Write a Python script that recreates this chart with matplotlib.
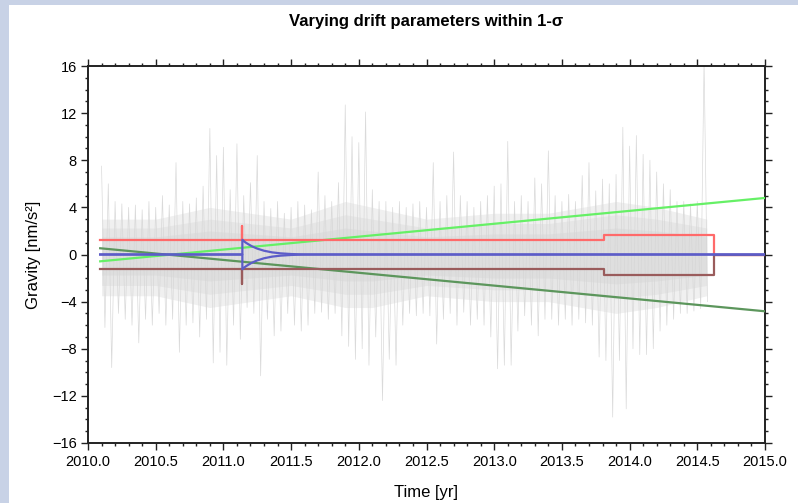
import numpy as np
import matplotlib
matplotlib.use("Agg")
import matplotlib.pyplot as plt
from matplotlib.patches import Rectangle
from matplotlib.ticker import MultipleLocator, FormatStrFormatter

# ---------------- data ----------------
noise_start = 2010.10
noise_step = 0.05
noise_hi = [7.5, 6.0, 4.5, 4.3, 4.0, 4.2, 3.8, 4.5, 4.0, 5.0,
            4.2, 7.8, 4.5, 4.3, 4.8, 5.8, 10.7, 8.4, 9.1, 5.5,
            9.4, 5.0, 6.1, 8.4, 4.5, 3.9, 4.5, 3.5, 4.0, 4.5,
            4.2, 3.8, 7.0, 5.0, 4.5, 6.1, 12.7, 10.0, 9.5, 12.1,
            5.5, 4.5, 4.5, 4.0, 4.5, 4.0, 4.3, 4.5, 4.0, 7.8,
            4.5, 5.0, 8.7, 5.0, 4.5, 4.0, 4.5, 5.0, 5.8, 6.0,
            9.6, 4.5, 5.0, 4.5, 6.5, 6.0, 8.8, 5.0, 4.5, 5.1,
            4.5, 6.7, 7.8, 5.4, 6.4, 6.0, 6.8, 10.8, 9.2, 10.1,
            8.5, 8.0, 7.0, 6.0, 5.5, 4.5, 4.5, 4.3, 4.5, 16.5]
noise_lo = [-6.2, -9.6, -5.0, -5.5, -6.0, -7.5, -5.5, -6.0, -5.0, -6.0,
            -5.5, -8.3, -6.0, -5.8, -7.0, -5.5, -9.2, -8.3, -9.4, -6.0,
            -7.2, -4.5, -5.0, -10.3, -5.5, -6.9, -6.5, -5.0, -6.0, -6.5,
            -6.0, -5.0, -4.9, -5.5, -5.0, -6.9, -7.8, -8.9, -8.0, -9.4,
            -7.0, -12.4, -8.9, -9.4, -6.0, -5.0, -5.2, -5.0, -5.2, -7.6,
            -5.5, -5.0, -6.0, -4.9, -6.0, -5.5, -6.0, -7.0, -9.7, -9.4,
            -9.4, -6.5, -5.2, -6.0, -6.9, -5.5, -5.5, -6.0, -5.5, -6.0,
            -5.5, -5.8, -6.0, -8.7, -9.0, -13.8, -9.0, -13.1, -8.0, -8.5,
            -8.5, -8.0, -6.5, -6.0, -5.5, -5.0, -5.0, -4.8, -4.6, -4.0]

core_t = [2010.10, 2010.50, 2010.90, 2011.20, 2011.50, 2011.90, 2012.10,
          2012.50, 2013.00, 2013.40, 2013.90, 2014.20, 2014.57]
core_hi = [3.0, 3.0, 4.0, 3.5, 3.0, 4.5, 4.0, 3.0, 3.5, 3.5, 4.5, 4.0, 3.0]
core_lo = [-3.5, -3.5, -4.5, -4.0, -3.5, -4.5, -4.5, -3.5, -4.0, -4.0, -5.0, -4.5, -3.5]

red_t = [2010.09, 2011.14, 2011.14, 2011.14, 2013.81, 2013.81, 2014.62, 2014.62, 2015.0]
red_v = [1.2, 1.2, 2.4, 1.2, 1.2, 1.65, 1.65, 0.0, 0.0]
brown_t = [2010.09, 2011.14, 2011.14, 2011.14, 2013.81, 2013.81, 2014.62, 2014.62, 2015.0]
brown_v = [-1.25, -1.25, -2.5, -1.25, -1.25, -1.7, -1.7, 0.0, 0.0]

blue_t = [2010.09, 2011.14, 2011.14, 2011.16, 2011.18, 2011.21, 2011.25,
          2011.30, 2011.36, 2011.42, 2011.50, 2011.60, 2015.0]
blue_up = [0.0, 0.0, 1.25, 1.05, 0.9, 0.7, 0.5, 0.32, 0.18, 0.1, 0.04, 0.0, 0.0]
blue_dn = [0.0, 0.0, -1.25, -1.05, -0.9, -0.7, -0.5, -0.32, -0.18, -0.1, -0.04, 0.0, 0.0]

lgreen_t = [2010.09, 2015.0]
lgreen_v = [-0.58, 4.8]
dgreen_t = [2010.09, 2015.0]
dgreen_v = [0.53, -4.82]

x_ticks_major = 0.5
y_ticks_major = 4

# ---------------- figure ----------------
W, H = 798, 503
fig = plt.figure(figsize=(W / 100, H / 100), dpi=100)
fig.patch.set_facecolor("#c8d2e6")
fig.patches.append(Rectangle((9 / W, 0), 1 - 9 / W, 1 - 5 / H, transform=fig.transFigure,
                             facecolor="white", edgecolor="none", zorder=-10))

ax = fig.add_axes([88 / W, 1 - 443 / H, (765 - 88) / W, (443 - 66) / H])
ax.set_facecolor("white")

FONT = ["Liberation Sans", "DejaVu Sans"]

# noise: soft dense core + spikes
for k, a in [(1.0, 0.35), (0.75, 0.35), (0.5, 0.4)]:
    ax.fill_between(core_t, np.array(core_lo) * k, np.array(core_hi) * k,
                    color="#d4d4d4", alpha=a, lw=0, zorder=1)
t_hi = noise_start + noise_step * np.arange(len(noise_hi))
t_lo = t_hi + noise_step / 2
zz_t = np.column_stack([t_hi, t_lo]).ravel()
zz_v = np.column_stack([noise_hi, noise_lo]).ravel()
ax.plot(zz_t, zz_v, color="#d6d6d6", lw=0.5, alpha=0.9, zorder=2)

# model lines
ax.plot(dgreen_t, dgreen_v, color="#5c965c", lw=1.6, zorder=3)
ax.plot(lgreen_t, lgreen_v, color="#66f066", lw=1.6, zorder=4)
ax.plot(red_t, red_v, color="#ff6a6a", lw=1.6, zorder=5)
ax.plot(brown_t, brown_v, color="#9a5c5c", lw=1.6, zorder=5)
ax.plot(blue_t, blue_up, color="#5c5cc8", lw=1.6, zorder=6)
ax.plot(blue_t, blue_dn, color="#5c5cc8", lw=1.6, zorder=6)

ax.set_xlim(2010, 2015)
ax.set_ylim(-16, 16)

ax.xaxis.set_major_locator(MultipleLocator(x_ticks_major))
ax.xaxis.set_minor_locator(MultipleLocator(0.1))
ax.yaxis.set_major_locator(MultipleLocator(y_ticks_major))
ax.yaxis.set_minor_locator(MultipleLocator(1))
ax.xaxis.set_major_formatter(FormatStrFormatter("%.1f"))

ax.tick_params(which="both", direction="out", top=True, right=True,
               labeltop=False, labelright=False, width=1.0, color="#222222")
ax.tick_params(which="major", length=5, labelsize=10.5)
ax.tick_params(axis="x", which="major", pad=4)
ax.tick_params(axis="y", which="major", pad=3)
ax.tick_params(which="minor", length=2.5)
for lab in ax.get_xticklabels() + ax.get_yticklabels():
    lab.set_family(FONT)

for s in ax.spines.values():
    s.set_linewidth(1.4)
    s.set_color("#222222")

ax.set_xlabel("Time [yr]", family=FONT, fontsize=12, labelpad=11)
ax.set_ylabel("Gravity [nm/s²]", family=FONT, fontsize=12, labelpad=8)
ax.set_title("Varying drift parameters within 1-σ", family=FONT, fontsize=12,
             fontweight="bold", pad=29)

fig.savefig("out.png", dpi=100, facecolor=fig.get_facecolor())
